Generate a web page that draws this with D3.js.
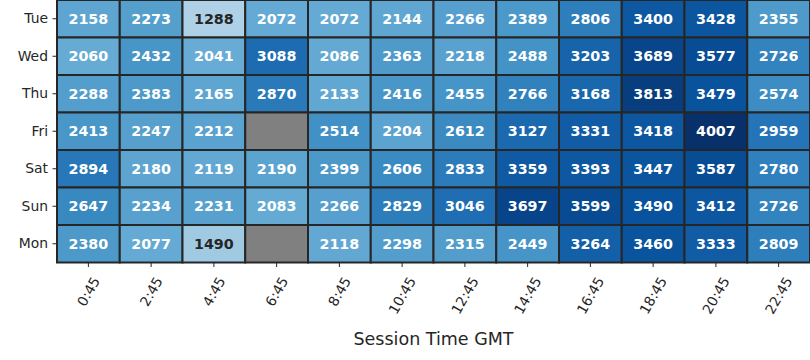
<!DOCTYPE html>
<html><head><meta charset="utf-8">
<script src="https://cdn.jsdelivr.net/npm/d3@7"></script>
<style>body{margin:0;background:#fff}svg{display:block;font-family:"DejaVu Sans",sans-serif}</style>
</head><body><svg id="c" width="810" height="360"></svg>
<script>
const days = ["Tue","Wed","Thu","Fri","Sat","Sun","Mon"];
const times = ["0:45","2:45","4:45","6:45","8:45","10:45","12:45","14:45","16:45","18:45","20:45","22:45"];
const tue = [2158,2273,1288,2072,2072,2144,2266,2389,2806,3400,3428,2355];
const wed = [2060,2432,2041,3088,2086,2363,2218,2488,3203,3689,3577,2726];
const thu = [2288,2383,2165,2870,2133,2416,2455,2766,3168,3813,3479,2574];
const fri = [2413,2247,2212,null,2514,2204,2612,3127,3331,3418,4007,2959];
const sat = [2894,2180,2119,2190,2399,2606,2833,3359,3393,3447,3587,2780];
const sun = [2647,2234,2231,2083,2266,2829,3046,3697,3599,3490,3412,2726];
const mon = [2380,2077,1490,null,2118,2298,2315,2449,3264,3460,3333,2809];
const rows = [tue,wed,thu,fri,sat,sun,mon];
const xLabel = "Session Time GMT";

const svg = d3.select("#c");
const L=57, R=810, T=0, B=262.5;
const x = d3.scaleBand().domain(times).range([L,R]);
const y = d3.scaleBand().domain(days).range([T,B]);
const blues = ["#f7fbff","#deebf7","#c6dbef","#9ecae1","#6baed6","#4292c6","#2171b5","#08519c","#08306b"];
const vmin = 0, vmax = 4007;
const color = d3.scaleLinear()
  .domain(blues.map((_,i)=>vmin+(vmax-vmin)*i/(blues.length-1)))
  .range(blues).interpolate(d3.interpolateRgb).clamp(true);

const cells = [];
rows.forEach((r,i)=>r.forEach((v,j)=>cells.push({d:days[i],t:times[j],v})));

svg.append("g").selectAll("rect").data(cells).join("rect")
  .attr("x",c=>x(c.t)).attr("y",c=>y(c.d))
  .attr("width",x.bandwidth()).attr("height",y.bandwidth())
  .attr("fill",c=>c.v==null?"#808080":color(c.v))
  .attr("stroke","#262626").attr("stroke-width",2);

svg.append("g").selectAll("text").data(cells.filter(c=>c.v!=null)).join("text")
  .attr("x",c=>x(c.t)+x.bandwidth()/2).attr("y",c=>y(c.d)+y.bandwidth()/2)
  .attr("text-anchor","middle").attr("dominant-baseline","central")
  .attr("font-weight","bold").attr("font-size",14.3)
  .attr("fill",c=>c.v<1800?"#262626":"#ffffff")
  .text(c=>c.v);

const yAxis = svg.append("g").attr("transform",`translate(${L},0)`)
  .call(d3.axisLeft(y).tickSize(4.5).tickPadding(4.5));
yAxis.select(".domain").remove();
yAxis.selectAll("text").attr("font-size",13.9).attr("fill","#262626").attr("font-family","DejaVu Sans");
yAxis.selectAll("line").attr("stroke","#262626");

const xAxis = svg.append("g").attr("transform",`translate(0,${B})`)
  .call(d3.axisBottom(x).tickSize(4.5).tickPadding(4));
xAxis.select(".domain").remove();
xAxis.selectAll("line").attr("stroke","#262626");
const s60 = Math.sin(Math.PI/3), c60 = Math.cos(Math.PI/3);
xAxis.selectAll("text").attr("font-size",13.9).attr("fill","#262626").attr("font-family","DejaVu Sans")
  .attr("text-anchor","middle").attr("dominant-baseline","central").attr("dy",null).attr("y",0).attr("x",0)
  .attr("transform",function(){
    const w = this.getComputedTextLength();
    const h = 13.9;
    const bh = w*s60 + h*c60;
    return `translate(0,${12 + bh/2}) rotate(-60)`;
  });

svg.append("text").attr("x",(L+R)/2).attr("y",345).attr("text-anchor","middle")
  .attr("font-size",17.5).attr("fill","#262626").text(xLabel);
</script></body></html>
